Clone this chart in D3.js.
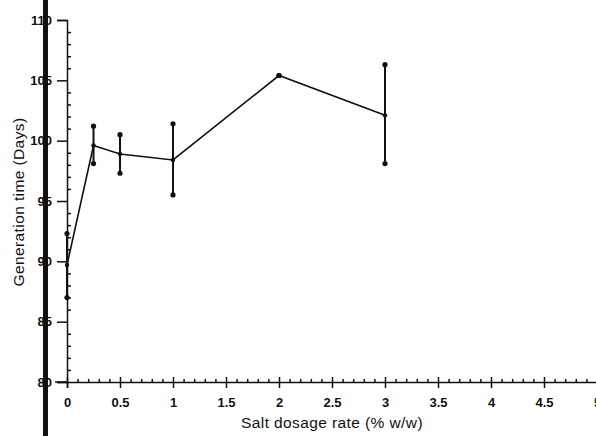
<!DOCTYPE html>
<html><head><meta charset="utf-8">
<script src="https://cdn.jsdelivr.net/npm/d3@7"></script>
<style>body{margin:0;background:#fff}svg{display:block}</style>
</head><body>
<svg id="c" width="596" height="436"></svg>
<script>
const dosage = [0, 0.25, 0.5, 1, 2, 3];
const genTime = [89.7, 99.6, 98.9, 98.4, 105.4, 102.1];
const errLow = [87.0, 98.1, 97.3, 95.5, 105.4, 98.1];
const errHigh = [92.3, 101.2, 100.5, 101.4, 105.4, 106.3];
const xTicks = [0, 0.5, 1, 1.5, 2, 2.5, 3, 3.5, 4, 4.5, 5];
const xTickLabels = ["0", "0.5", "1", "1.5", "2", "2.5", "3", "3.5", "4", "4.5", "5"];
const yTicks = [80, 85, 90, 95, 100, 105, 110];
const xTitle = "Salt dosage rate (% w/w)";
const yTitle = "Generation time (Days)";

const svg = d3.select("#c");
const x = d3.scaleLinear().domain([0, 5]).range([67, 597]);
const y = d3.scaleLinear().domain([80, 110]).range([382, 20]);
const font = "Liberation Sans, Arial, Helvetica, sans-serif";

// scan artifact: thick vertical bar
svg.append("rect").attr("x", 43).attr("y", 0).attr("width", 5).attr("height", 436).attr("fill", "#111");

// y axis
const yAx = svg.append("g").attr("transform", `translate(${x(0)},0)`);
yAx.call(d3.axisLeft(y).tickValues(yTicks).tickSize(10).tickPadding(5).tickFormat(d3.format("d")));
yAx.append("g").call(d3.axisRight(y).tickValues(d3.range(80, 111, 1).filter(v => v % 5 !== 0)).tickSize(4).tickFormat(""))
  .select(".domain").remove();
yAx.selectAll("text").attr("font-family", font).attr("font-size", 13).attr("font-weight", "bold").attr("fill", "#111");
yAx.selectAll("line,path").attr("stroke", "#111").attr("stroke-width", 1.5);

// x axis
const xAx = svg.append("g").attr("transform", `translate(0,${y(80)})`);
xAx.call(d3.axisBottom(x).tickValues(xTicks).tickSize(6).tickPadding(10).tickFormat((d, i) => xTickLabels[i]));
xAx.selectAll(".tick line").attr("y1", -5);
xAx.append("g").call(d3.axisTop(x).tickValues(d3.range(0, 51).map(v => v / 10).filter(v => Math.round(v * 10) % 5 !== 0)).tickSize(3).tickFormat(""))
  .select(".domain").remove();
xAx.append("line").attr("x1", 55).attr("x2", x(0)).attr("stroke", "#111").attr("stroke-width", 1.5);
xAx.selectAll("text").attr("font-family", font).attr("font-size", 13).attr("font-weight", "bold").attr("fill", "#111");
xAx.selectAll("line,path").attr("stroke", "#111").attr("stroke-width", 1.5);

// titles
svg.append("text").attr("x", 332).attr("y", 428).attr("text-anchor", "middle")
  .attr("font-family", font).attr("font-size", 15.5).attr("letter-spacing", 0.4).attr("fill", "#111").text(xTitle);
svg.append("text").attr("transform", "translate(24,202) rotate(-90)").attr("text-anchor", "middle")
  .attr("font-family", font).attr("font-size", 15.5).attr("letter-spacing", 0.4).attr("fill", "#111").text(yTitle);

// error bars
const g = svg.append("g");
dosage.forEach((d, i) => {
  g.append("line").attr("x1", x(d)).attr("x2", x(d)).attr("y1", y(errLow[i])).attr("y2", y(errHigh[i]))
    .attr("stroke", "#111").attr("stroke-width", 2);
  [errLow[i], errHigh[i]].forEach(v => g.append("circle").attr("cx", x(d)).attr("cy", y(v)).attr("r", 2.6).attr("fill", "#111"));
});
// line
g.append("path").datum(dosage.map((d, i) => [d, genTime[i]]))
  .attr("d", d3.line().x(p => x(p[0])).y(p => y(p[1])))
  .attr("fill", "none").attr("stroke", "#111").attr("stroke-width", 1.6);
dosage.forEach((d, i) => g.append("circle").attr("cx", x(d)).attr("cy", y(genTime[i])).attr("r", 2.2).attr("fill", "#111"));
</script>
</body></html>
